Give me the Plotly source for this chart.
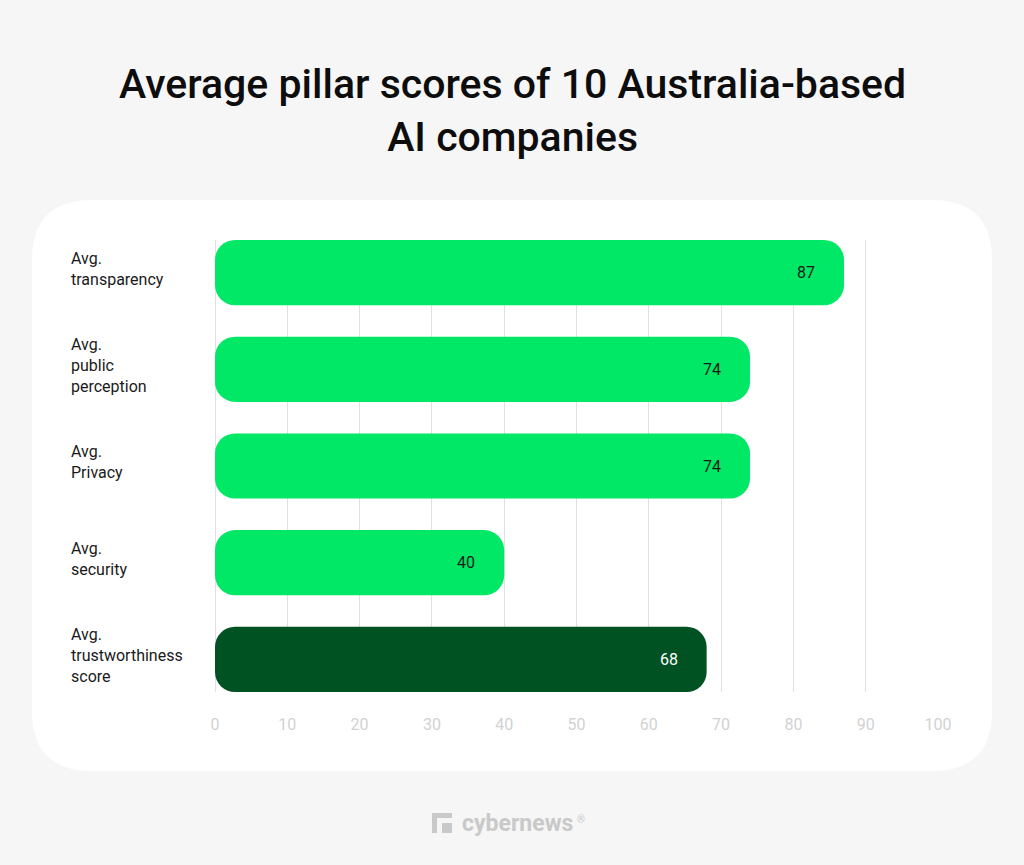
import plotly.graph_objects as go

# ---- data ----
categories = ["Avg.<br>transparency", "Avg.<br>public<br>perception", "Avg.<br>Privacy",
              "Avg.<br>security", "Avg.<br>trustworthiness<br>score"]
values = [87, 74, 74, 40, 68]
bar_colors = ["#00E865", "#00E865", "#00E865", "#00E865", "#005222"]
value_text_colors = ["#1a1a1a", "#1a1a1a", "#1a1a1a", "#1a1a1a", "#ffffff"]
x_ticks = [0, 10, 20, 30, 40, 50, 60, 70, 80, 90, 100]
title_text = "Average pillar scores of 10 Australia-based<br>AI companies"

W, H = 1024, 865
ypos = list(range(len(values)))
BAR_W = 0.674


def px(x):
    return x / W


def py(y):
    return (H - y) / H


fig = go.Figure()
fig.add_trace(go.Bar(orientation="h", y=ypos, x=values, base=[0] * len(values), width=BAR_W,
                     marker=dict(color=bar_colors, cornerradius=20, line=dict(width=0)),
                     hoverinfo="skip", showlegend=False))

annotations = []
# category labels
for yi, lab in zip(ypos, categories):
    annotations.append(dict(x=px(69), xref="paper", y=yi, yref="y", text=lab, showarrow=False,
                            xanchor="left", yanchor="middle", align="left", yshift=4,
                            font=dict(family="Roboto", size=16, color="#1a1a1a")))
# value labels
for yi, v, c in zip(ypos, values, value_text_colors):
    annotations.append(dict(x=v, xref="x", y=yi, yref="y", text=str(v), showarrow=False,
                            xanchor="right", yanchor="middle", xshift=-27,
                            font=dict(family="Roboto", size=16, color=c)))
# title
annotations.append(dict(x=0.5, xref="paper", y=py(111), yref="paper", text=title_text,
                        showarrow=False, xanchor="center", yanchor="middle", align="center",
                        font=dict(family="Roboto", size=41, color="#0d0d0d", weight=500)))
# logo text
annotations.append(dict(x=px(460), xref="paper", y=py(823), yref="paper", text="<b>cybernews</b>",
                        showarrow=False, xanchor="left", yanchor="middle",
                        font=dict(family="Roboto", size=23, color="#c9c9c9")))
annotations.append(dict(x=px(575), xref="paper", y=py(819), yref="paper", text="®",
                        showarrow=False, xanchor="left", yanchor="middle",
                        font=dict(family="Roboto", size=10, color="#c9c9c9")))


def rounded_rect(x0, y0, x1, y1, r):
    # pixel coords -> paper path
    pts = []
    pts.append(f"M {px(x0 + r)} {py(y0)}")
    pts.append(f"L {px(x1 - r)} {py(y0)}")
    pts.append(f"Q {px(x1)} {py(y0)} {px(x1)} {py(y0 + r)}")
    pts.append(f"L {px(x1)} {py(y1 - r)}")
    pts.append(f"Q {px(x1)} {py(y1)} {px(x1 - r)} {py(y1)}")
    pts.append(f"L {px(x0 + r)} {py(y1)}")
    pts.append(f"Q {px(x0)} {py(y1)} {px(x0)} {py(y1 - r)}")
    pts.append(f"L {px(x0)} {py(y0 + r)}")
    pts.append(f"Q {px(x0)} {py(y0)} {px(x0 + r)} {py(y0)} Z")
    return " ".join(pts)


shapes = [
    dict(type="path", xref="paper", yref="paper", path=rounded_rect(32, 200, 992, 771, 60),
         fillcolor="#ffffff", line=dict(width=0), layer="below"),
    # logo icon
    dict(type="rect", xref="paper", yref="paper", x0=px(432), x1=px(452), y0=py(833), y1=py(813),
         fillcolor="#c9c9c9", line=dict(width=0), layer="above"),
    dict(type="rect", xref="paper", yref="paper", x0=px(437), x1=px(442), y0=py(833), y1=py(818),
         fillcolor="#f6f6f6", line=dict(width=0), layer="above"),
    dict(type="rect", xref="paper", yref="paper", x0=px(442), x1=px(452), y0=py(823), y1=py(818),
         fillcolor="#f6f6f6", line=dict(width=0), layer="above"),
    dict(type="rect", xref="paper", yref="paper", x0=px(446), x1=px(452), y0=py(833), y1=py(828),
         fillcolor="#c9c9c9", line=dict(width=0), layer="above"),
]

fig.update_layout(
    template="none",
    width=W, height=H, autosize=False,
    margin=dict(l=0, r=0, t=0, b=0, pad=0),
    paper_bgcolor="#f6f6f6",
    plot_bgcolor="rgba(0,0,0,0)",
    barmode="overlay",
    showlegend=False,
    annotations=annotations,
    shapes=shapes,
    xaxis=dict(domain=[px(215), px(938)], range=[0, 100], tickvals=x_ticks, automargin=False,
               showgrid=True, gridcolor="#e0e0e0", gridwidth=1,
               zeroline=True, zerolinecolor="#e0e0e0", zerolinewidth=1,
               showline=False, ticks="", ticklabelstandoff=21,
               tickfont=dict(family="Roboto", size=16, color="#d2d2d2"), fixedrange=True),
    yaxis=dict(domain=[py(692), py(240)], range=[len(values) - 1 + BAR_W / 2, -BAR_W / 2],
               automargin=False,
               showticklabels=False, showgrid=False, zeroline=False, showline=False, ticks="",
               fixedrange=True),
)

fig.write_html("out.html", config={"responsive": False, "displayModeBar": False},
               post_script="document.body.style.margin='0';document.body.style.overflow='hidden';")
